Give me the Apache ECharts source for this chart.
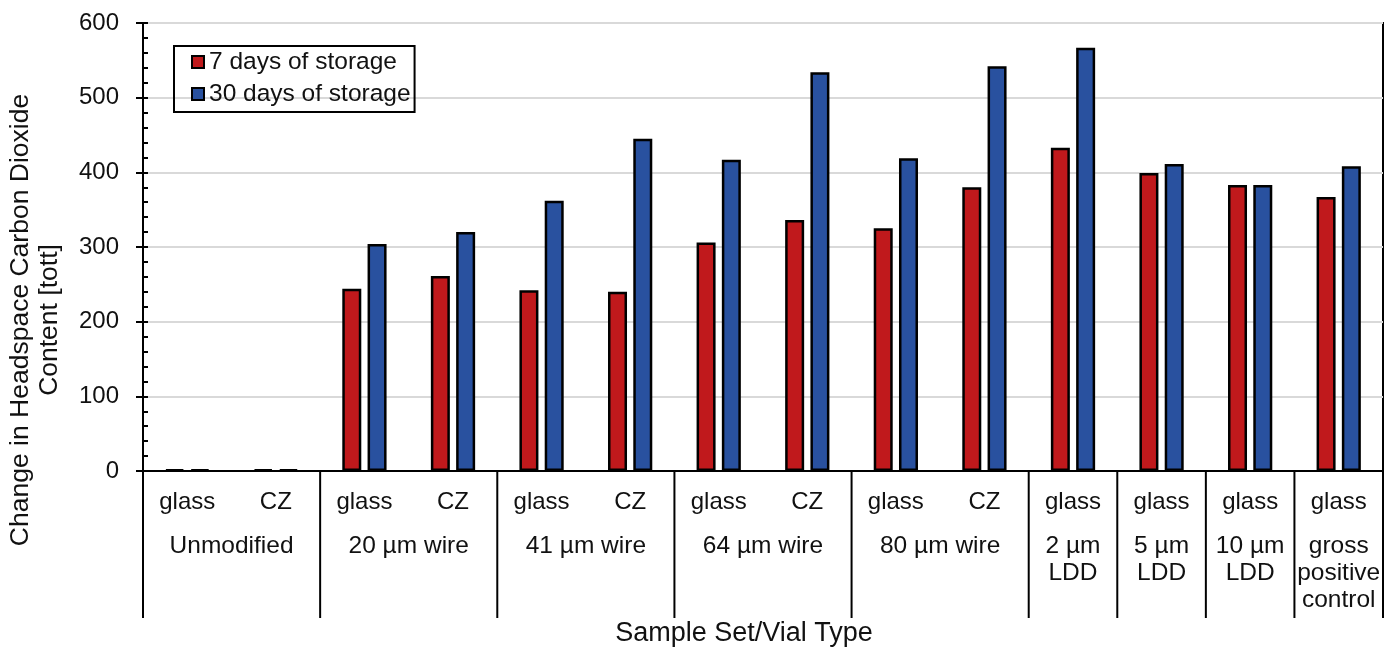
<!DOCTYPE html>
<html><head><meta charset="utf-8">
<script src="https://cdn.jsdelivr.net/npm/echarts@6/dist/echarts.min.js"></script>
<style>html,body{margin:0;padding:0;background:#fff}#c{width:1388px;height:652px}</style>
</head><body><div id="c"></div>
<script>
const categories = ['glass','CZ','glass','CZ','glass','CZ','glass','CZ','glass','CZ','glass','glass','glass','glass'];
const groupNames = ['Unmodified','20 µm wire','41 µm wire','64 µm wire','80 µm wire','2 µm\nLDD','5 µm\nLDD','10 µm\nLDD','gross\npositive\ncontrol'];
const groupSizes = [2,2,2,2,2,1,1,1,1];
const days7 = [2,2,244,261,242,240,306,336,325,380,433,399,383,367];
const days30 = [2,2,304,320,362,445,417,534,419,542,567,411,383,408];
const yMin = 0, yMax = 600, yStep = 100;
const seriesNames = ['7 days of storage','30 days of storage'];
const yTitle = 'Change in Headspace Carbon Dioxide\nContent [tott]';
const xTitle = 'Sample Set/Vial Type';

const FONT = '"Liberation Sans", Arial, sans-serif';
const TXT = '#111';
const chart = echarts.init(document.getElementById('c'), null, {renderer:'canvas'});
chart.setOption({
  animation:false,
  backgroundColor:'#fff',
  textStyle:{fontFamily:FONT, color:TXT},
  grid:{left:143, right:5, top:23, bottom:181, show:true, borderColor:'#000', borderWidth:2, backgroundColor:'transparent'},
  legend:{
    orient:'vertical', left:174, top:46,
    borderColor:'#000', borderWidth:2, padding:[3,4,5,17], itemGap:6,
    icon:'rect', itemWidth:12, itemHeight:12,
    textStyle:{fontSize:24.5, lineHeight:26, color:TXT, fontFamily:FONT},
    data:seriesNames
  },
  xAxis:{
    type:'category', data:categories,
    axisLine:{show:true, lineStyle:{color:'#000', width:2}},
    axisTick:{show:false},
    axisLabel:{fontSize:24, lineHeight:26, color:TXT, margin:18, interval:0, fontFamily:FONT},
    splitLine:{show:false}
  },
  yAxis:[{
    type:'value', min:yMin, max:yMax, interval:yStep,
    axisLine:{show:true, lineStyle:{color:'#000', width:2}},
    axisTick:{show:true, inside:false, length:7, lineStyle:{color:'#000', width:2}},
    axisLabel:{fontSize:24, color:TXT, margin:24, fontFamily:FONT},
    splitLine:{show:true, lineStyle:{color:'#d9d9d9', width:2}}
  },{
    type:'value', min:yMin, max:yMax, interval:yStep, position:'left',
    axisLine:{show:false},
    axisTick:{show:true, inside:true, length:5, lineStyle:{color:'#000', width:2}},
    minorTick:{show:true, splitNumber:5, length:5, lineStyle:{color:'#000', width:2}},
    axisLabel:{show:false},
    splitLine:{show:false}
  }],
  series:[{
    name:seriesNames[0], type:'bar', data:days7, barWidth:19, barGap:'33%',
    itemStyle:{color:'#c0191c', borderColor:'#000', borderWidth:2.5}
  },{
    name:seriesNames[1], type:'bar', data:days30, barWidth:19, barGap:'33%',
    itemStyle:{color:'#29519f', borderColor:'#000', borderWidth:2.5}
  }]
});

// multi-level axis: group separators and labels from the category scale
const c0 = chart.convertToPixel({xAxisIndex:0}, 0);
const c1 = chart.convertToPixel({xAxisIndex:0}, 1);
const bw = c1 - c0;
const yBase = chart.convertToPixel({yAxisIndex:0}, 0);
const graphics = [];
let start = 0;
const bounds = [0];
groupSizes.forEach((n, g) => {
  const left = chart.convertToPixel({xAxisIndex:0}, start) - bw/2;
  const right = chart.convertToPixel({xAxisIndex:0}, start + n - 1) + bw/2;
  graphics.push({type:'text', x:(left+right)/2, y:yBase+62, style:{
    text:groupNames[g], font:'24.5px ' + FONT, fill:TXT, align:'center', verticalAlign:'top', lineHeight:27}});
  start += n;
  bounds.push(start);
});
bounds.forEach(b => {
  const x = chart.convertToPixel({xAxisIndex:0}, Math.min(b, categories.length-1)) + (b >= categories.length ? bw/2 : -bw/2);
  graphics.push({type:'line', shape:{x1:x, y1:yBase, x2:x, y2:yBase+147}, style:{stroke:'#000', lineWidth:2}});
});
graphics.push({type:'text', x:35, y:320, rotation:Math.PI/2, style:{
  text:yTitle, font:'26.5px ' + FONT, fill:TXT, align:'center', verticalAlign:'middle', lineHeight:29}});
graphics.push({type:'text', x:744, y:634, style:{
  text:xTitle, font:'27px ' + FONT, fill:TXT, align:'center', verticalAlign:'middle'}});
chart.setOption({graphic:graphics});
</script></body></html>
